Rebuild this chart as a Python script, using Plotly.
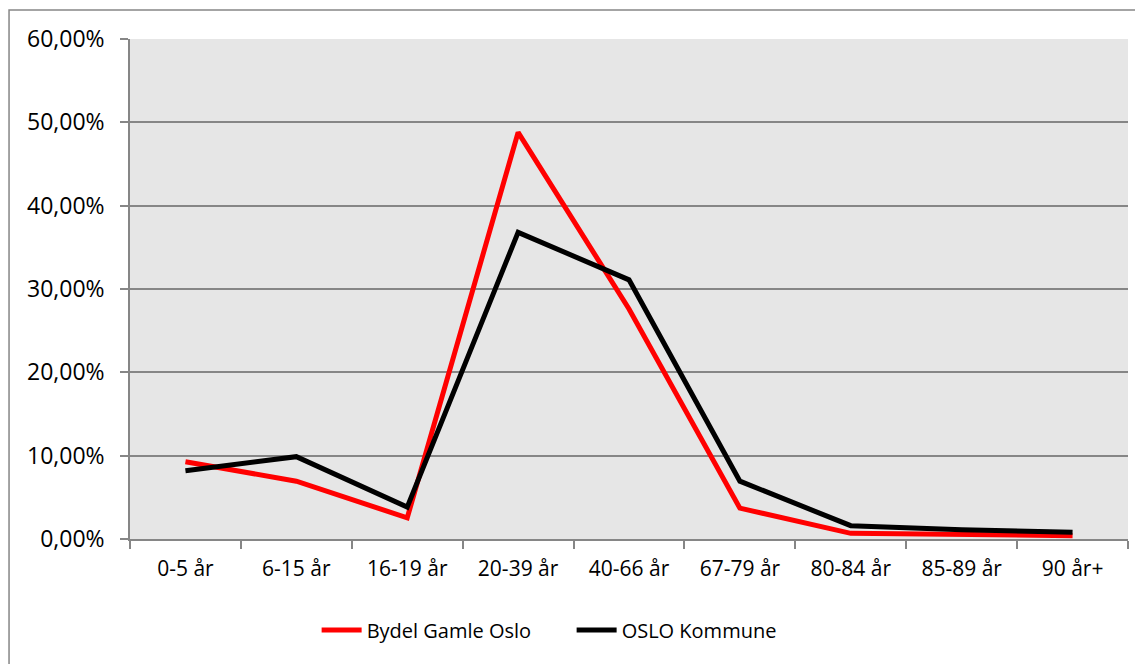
import plotly.graph_objects as go

age_groups = ["0-5 år", "6-15 år", "16-19 år", "20-39 år", "40-66 år",
              "67-79 år", "80-84 år", "85-89 år", "90 år+"]
gamle_oslo = [0.0927, 0.0694, 0.0254, 0.4880, 0.2760, 0.0370, 0.0068, 0.0050, 0.0040]
oslo_kommune = [0.0818, 0.0988, 0.0383, 0.3680, 0.3110, 0.0694, 0.0160, 0.0110, 0.0080]

series = [
    ("Bydel Gamle Oslo", gamle_oslo, "#ff0000"),
    ("OSLO Kommune", oslo_kommune, "#000000"),
]

grid_col = "#868686"
font_family = "'Open Sans', Lato, sans-serif"

fig = go.Figure()
for name, vals, col in series:
    fig.add_trace(go.Scatter(
        x=age_groups, y=vals, name=name, mode="lines",
        line=dict(color=col, width=5),
    ))

# outer chart border
fig.add_shape(type="rect", xref="paper", yref="paper",
              x0=-0.1212, x1=1.05, y0=-0.3, y1=1.058,
              line=dict(color=grid_col, width=1.5), layer="below")

# page body has an 8px margin, so the figure is a bit smaller than the window
fig.update_layout(
    width=1135, height=656,
    margin=dict(l=122, r=15, t=31, b=125),
    paper_bgcolor="white", plot_bgcolor="#e6e6e6",
    font=dict(family=font_family, size=21, color="#000000"),
    separators=",.",
    showlegend=True,
    legend=dict(orientation="h", x=0.187, xanchor="left", y=-0.182, yanchor="middle",
                font=dict(size=20), itemwidth=40,
                entrywidth=200, entrywidthmode="pixels"),
)
fig.update_xaxes(
    type="category", tickson="boundaries", ticks="outside", ticklen=8,
    tickcolor=grid_col, tickwidth=1.5, showgrid=False,
    showline=True, linecolor=grid_col, linewidth=1.5,
    range=[-0.5, 8.5], ticklabelstandoff=10,
)
fig.update_yaxes(
    range=[0, 0.6], dtick=0.1, tickformat=".2%",
    ticks="outside", ticklen=8, tickcolor=grid_col, tickwidth=1.5,
    showgrid=True, gridcolor=grid_col, gridwidth=1.5,
    showline=True, linecolor=grid_col, linewidth=1.5,
    zeroline=False, ticklabelstandoff=11,
    tickfont=dict(size=23),
)

fig.write_html("out.html")
